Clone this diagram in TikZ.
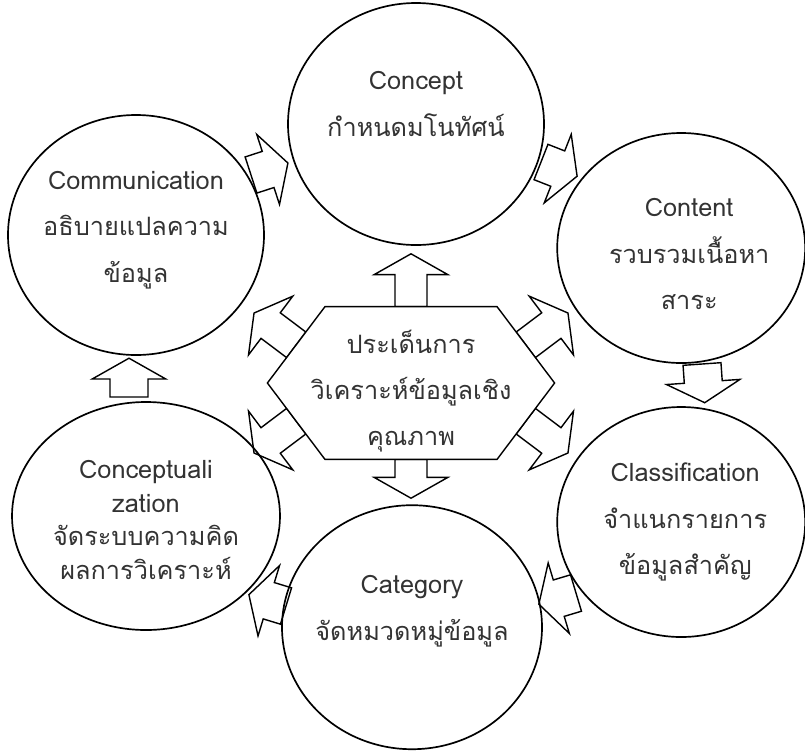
\documentclass[tikz,border=0pt]{standalone}
\usepackage{fontspec}
\newfontfamily\thaifont[Script=Thai]{Loma}
\usetikzlibrary{shapes.geometric}

\tikzset{
  stage/.style={draw, ellipse, line width=1.2pt, inner sep=0pt},
  words/.style={align=center, text=black!80, font=\thaifont\fontsize{18}{33}\selectfont},
  arrowline/.style={line width=1pt, line join=miter},
  pics/fatarrow/.style 2 args={code={
    \draw[arrowline] (0,-#2) -- (#1,-#2) -- (#1,-0.92) -- (#1+0.52,0)
      -- (#1,0.92) -- (#1,#2) -- (0,#2) -- cycle;
  }}
}

\begin{document}
\begin{tikzpicture}
    \useasboundingbox (0,0) rectangle (20.125,-18.75);

    % the six steps
    \node[stage, minimum width=6.4cm, minimum height=6.05cm] (concept) at (10.4,-3.1) {};
    \node[stage, minimum width=6.2cm, minimum height=5.75cm] (content) at (17.03,-6.2) {};
    \node[stage, minimum width=6.2cm, minimum height=5.75cm] (classif) at (17.03,-13.05) {};
    \node[stage, minimum width=6.5cm, minimum height=6.1cm] (category) at (10.3,-15.68) {};
    \node[stage, minimum width=6.7cm, minimum height=5.7cm] (concptz) at (3.65,-12.9) {};
    \node[stage, minimum width=6.4cm, minimum height=6cm] (commun) at (3.4,-5.875) {};

    \node[words] (conceptText) at ([yshift=0.5cm]concept) {Concept\\กำหนดมโนทัศน์};
    \node[words] (contentText) at ([xshift=0.2cm,yshift=-0.15cm]content) {Content\\รวบรวมเนื้อหา\\สาระ};
    \node[words] (classifText) at ([xshift=0.1cm]classif) {Classification\\จำแนกรายการ\\ข้อมูลสำคัญ};
    \node[words] (categoryText) at ([yshift=0.4cm]category) {Category\\จัดหมวดหมู่ข้อมูล};
    \node[words, font=\thaifont\fontsize{18}{24}\selectfont] (concptzText) at ([yshift=-0.1cm]concptz) {Conceptuali\\ zation\\จัดระบบความคิด\\ผลการวิเคราะห์};
    \node[words] (communText) at ([yshift=0.125cm]commun) {Communication\\อธิบายแปลความ\\ข้อมูล};

    % arrows round the cycle
    \pic[rotate=18] at (6.275,-4.375) {fatarrow={0.45}{0.475}};
    \pic[rotate=-21.5] at (13.525,-4.05) {fatarrow={0.45}{0.475}};
    \pic[rotate=-86] at (17.55,-9.1) {fatarrow={0.45}{0.475}};
    \pic[rotate=196.7] at (14.4,-14.825) {fatarrow={0.45}{0.475}};
    \pic[rotate=163] at (7.15,-15.15) {fatarrow={0.45}{0.475}};
    \pic[rotate=90] at (3.225,-9.925) {fatarrow={0.45}{0.475}};

    % centre hexagon
    \begin{scope}[shift={(10.275,-9.575)}]
      \foreach \ang/\dx/\dy/\len in {90/0/1.91/0.8, 270/0/-1.91/0.45, 143/-2.87/0.955/0.8,
          217/-2.87/-0.955/0.8, 37/2.87/0.955/0.8, -37/2.87/-0.955/0.8}
        \pic[rotate=\ang] at (\dx,\dy) {fatarrow={\len}{0.4}};
      \draw[arrowline, fill=white] (-2.15,1.91) -- (2.15,1.91) -- (3.59,0)
        -- (2.15,-1.91) -- (-2.15,-1.91) -- (-3.59,0) -- cycle;
      \node[words] (hub) at (0,-0.2) {ประเด็นการ\\วิเคราะห์ข้อมูลเชิง\\คุณภาพ};
    \end{scope}
\end{tikzpicture}
\end{document}
